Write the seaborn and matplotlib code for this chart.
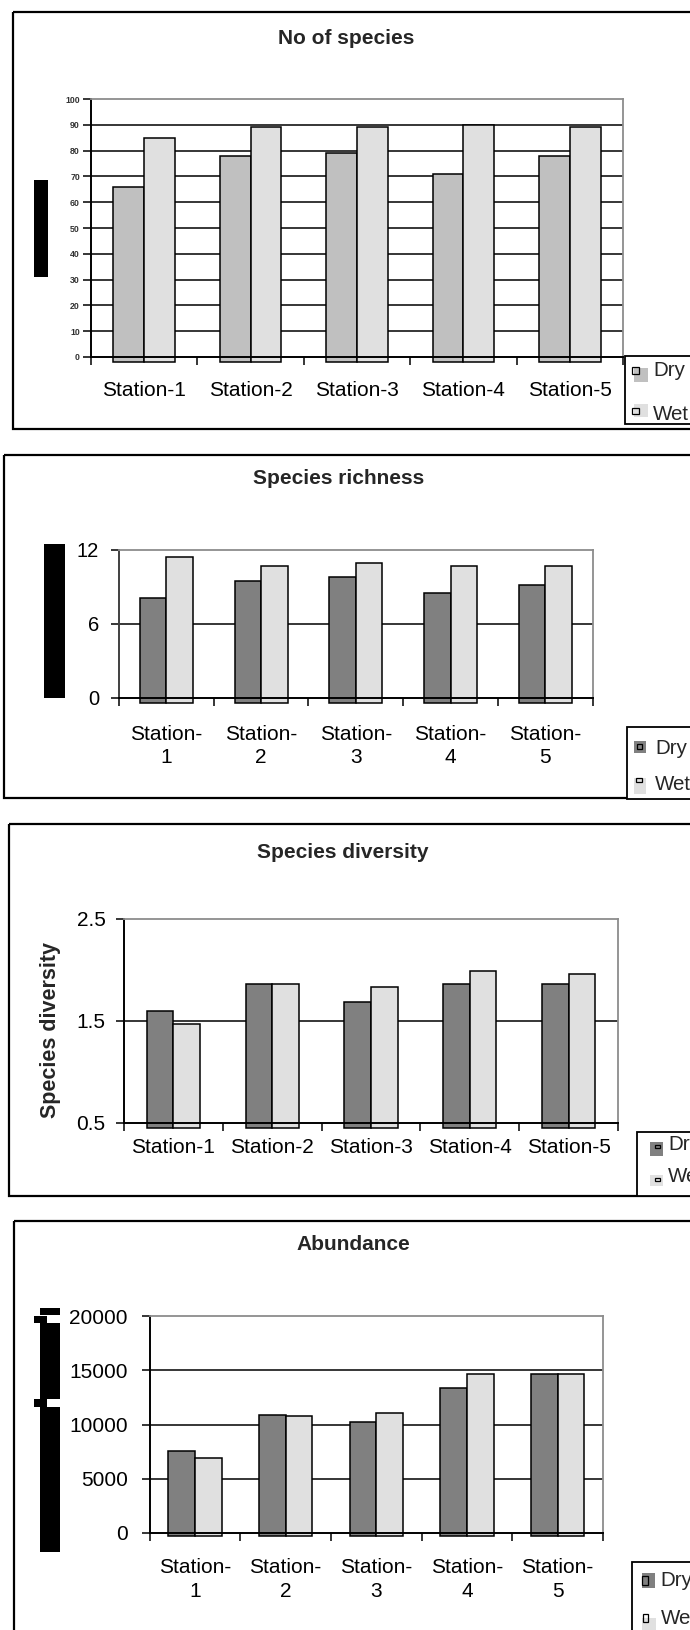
import numpy as np
import pandas as pd
import matplotlib
matplotlib.use("Agg")
import matplotlib.pyplot as plt
import seaborn as sns
from matplotlib.patches import Rectangle
from matplotlib.ticker import FixedLocator

# ---------------- data ----------------
stations = ["Station-1", "Station-2", "Station-3", "Station-4", "Station-5"]
stations_two_line = ["Station-\n1", "Station-\n2", "Station-\n3", "Station-\n4", "Station-\n5"]
seasons = ["Dry", "Wet"]

species_dry = [66, 78, 79, 71, 78]
species_wet = [85, 89, 89, 90, 89]
species_ticks = [0, 10, 20, 30, 40, 50, 60, 70, 80, 90, 100]
species_ticklabels = ["0", "10", "20", "30", "40", "50", "60", "70", "80", "90", "100"]

richness_dry = [8.1, 9.5, 9.8, 8.5, 9.1]
richness_wet = [11.4, 10.7, 10.9, 10.7, 10.7]
richness_ticks = [0, 6, 12]
richness_ticklabels = ["0", "6", "12"]

diversity_dry = [1.60, 1.86, 1.68, 1.86, 1.86]
diversity_wet = [1.47, 1.86, 1.83, 1.99, 1.96]
diversity_ticks = [0.5, 1.5, 2.5]
diversity_ticklabels = ["0.5", "1.5", "2.5"]

abundance_dry = [7600, 10900, 10200, 13400, 14650]
abundance_wet = [6900, 10800, 11100, 14650, 14650]
abundance_ticks = [0, 5000, 10000, 15000, 20000]
abundance_ticklabels = ["0", "5000", "10000", "15000", "20000"]

# ---------------- style ----------------
sns.set_style("white")
plt.rcParams["font.family"] = ["Liberation Sans", "DejaVu Sans"]

W, H = 690, 1630
fig = plt.figure(figsize=(W / 100, H / 100), dpi=100)
bg = fig.add_axes([0, 0, 1, 1], zorder=0)
bg.set_xlim(0, W)
bg.set_ylim(H, 0)
bg.axis("off")


def rect(x0, y0, x1, y1, **kw):
    bg.add_patch(Rectangle((x0, y0), x1 - x0, y1 - y0, **kw))


def px_axes(x0, y0, x1, y1):
    return fig.add_axes([x0 / W, 1 - y1 / H, (x1 - x0) / W, (y1 - y0) / H], zorder=1)


def draw_panel(box, title, title_xy, area, dry, wet, colors, ticks, ticklabels,
               xlabels, width, xpad, ypad, ytick_fs, depth_px,
               ytick_weight="normal", ytick_color="black", left_color="black"):
    # outer frame
    rect(*box, fill=False, edgecolor="black", lw=1.6)
    bg.text(title_xy[0], title_xy[1], title, ha="center", va="center",
            fontsize=15, fontweight="bold")

    x0, y0, x1, y1 = area
    ax = px_axes(*area)
    df = pd.DataFrame({
        "station": stations * 2,
        "season": ["Dry"] * len(stations) + ["Wet"] * len(stations),
        "value": list(dry) + list(wet),
    })
    sns.barplot(data=df, x="station", y="value", hue="season", order=stations,
                hue_order=seasons, palette=colors, width=width, saturation=1,
                edgecolor="black", linewidth=1.1, errorbar=None, gap=0,
                legend=False, ax=ax)
    ymin, ymax = ticks[0], ticks[-1]
    ax.set_ylim(ymin, ymax)
    ax.set_xlim(-0.5, len(stations) - 0.5)
    # Excel-like base: bars sit on the axis floor, slightly below the axis line
    depth = depth_px * (ymax - ymin) / (y1 - y0)
    for p in ax.patches:
        top = p.get_y() + p.get_height()
        p.set_y(ymin - depth)
        p.set_height(top - ymin + depth)
        p.set_clip_on(False)

    ax.set_xlabel("")
    ax.set_ylabel("")
    ax.set_yticks(ticks)
    ax.set_yticklabels(ticklabels)
    ax.set_xticks(range(len(stations)))
    ax.set_xticklabels(xlabels)

    ax.yaxis.grid(True, color="black", lw=1.1)
    ax.xaxis.grid(False)
    gl = ax.get_ygridlines()
    gl[0].set_visible(False)
    gl[-1].set_visible(False)
    ax.set_axisbelow(True)

    for side in ["top", "right"]:
        ax.spines[side].set_visible(True)
        ax.spines[side].set_color("#8c8c8c")
        ax.spines[side].set_linewidth(1.3)
    ax.spines["left"].set_color(left_color)
    ax.spines["left"].set_linewidth(1.4)
    ax.spines["bottom"].set_color("black")
    ax.spines["bottom"].set_linewidth(1.4)

    ax.tick_params(axis="y", which="major", left=True, direction="out", length=5.8,
                   width=1.1, color="black", pad=ypad, labelsize=ytick_fs,
                   labelcolor=ytick_color)
    for lab in ax.get_yticklabels():
        lab.set_fontweight(ytick_weight)
    ax.tick_params(axis="x", which="major", bottom=True, length=0, pad=xpad,
                   labelsize=15, labelcolor="black")
    ax.xaxis.set_minor_locator(FixedLocator(np.arange(-0.5, len(stations), 1.0)))
    ax.tick_params(axis="x", which="minor", bottom=True, direction="out",
                   length=5.8, width=1.1, color="black")
    plt.setp(ax.get_xticklabels(), va="center", linespacing=1.3)
    return ax


def draw_legend(x0, y0, y1, entries):
    rect(x0, y0, W + 20, y1, facecolor="white", edgecolor="black", lw=1.3)
    for label, color, sq, ol, txt in entries:
        rect(*sq, facecolor=color, edgecolor="none")
        rect(*ol, fill=False, edgecolor="black", lw=0.9)
        bg.text(txt[0], txt[1], label, ha="left", va="center", fontsize=14.8)


dry_light, dry_dark, wet_col = "#c0c0c0", "#808080", "#e0e0e0"

# ---------------- panel 1 ----------------
draw_panel(box=(13, 12, W + 20, 429), title="No of species", title_xy=(346, 39),
           area=(91, 99, 623, 357), dry=species_dry, wet=species_wet,
           colors=[dry_light, wet_col], ticks=species_ticks,
           ticklabels=species_ticklabels, xlabels=stations, width=0.58,
           xpad=23.8, ypad=2.2, ytick_fs=6.3, depth_px=5,
           ytick_weight="bold", ytick_color="#333333")
draw_legend(625, 356, 424, [
    ("Dry", dry_light, (634.3, 368, 647.7, 381.7), (632.3, 367.3, 639, 374), (653.3, 370)),
    ("Wet", wet_col, (634.3, 404, 647.7, 417), (632.3, 408, 639, 414), (653.3, 414)),
])
rect(34, 180, 48, 277, facecolor="black", edgecolor="none")

# ---------------- panel 2 ----------------
draw_panel(box=(4, 455, W + 20, 798), title="Species richness", title_xy=(339, 479),
           area=(119, 549.7, 592.7, 697.7), dry=richness_dry, wet=richness_wet,
           colors=[dry_dark, wet_col], ticks=richness_ticks,
           ticklabels=richness_ticklabels, xlabels=stations_two_line, width=0.56,
           xpad=34.7, ypad=8.6, ytick_fs=14.5, depth_px=5.5, left_color="#404040")
draw_legend(627, 727, 799, [
    ("Dry", dry_dark, (634, 741, 645.5, 752.7), (637, 744, 642, 749), (655, 748)),
    ("Wet", wet_col, (634, 778, 646, 794), (635.7, 777.7, 641.7, 782.3), (655, 785)),
])
rect(44, 544, 65, 698, facecolor="black", edgecolor="none")

# ---------------- panel 3 ----------------
draw_panel(box=(8.5, 824, W + 20, 1196), title="Species diversity", title_xy=(343, 852),
           area=(124, 918.7, 618, 1122.7), dry=diversity_dry, wet=diversity_wet,
           colors=[dry_dark, wet_col], ticks=diversity_ticks,
           ticklabels=diversity_ticklabels, xlabels=stations, width=0.54,
           xpad=18.2, ypad=7.5, ytick_fs=15, depth_px=5.5)
bg.text(50.6, 1030, "Species diversity", rotation=90, ha="center", va="center",
        fontsize=15.5, fontweight="bold")
draw_legend(637, 1132, 1196, [
    ("Dry", dry_dark, (650, 1141.7, 663.3, 1155.7), (655, 1145, 660, 1148), (668.3, 1144)),
    ("Wet", wet_col, (650, 1175, 663.3, 1185.7), (655, 1177.5, 660, 1180.5), (668.3, 1177)),
])

# ---------------- panel 4 ----------------
draw_panel(box=(14, 1221, W + 20, H + 20), title="Abundance", title_xy=(353, 1245),
           area=(149.6, 1316, 603, 1533), dry=abundance_dry, wet=abundance_wet,
           colors=[dry_dark, wet_col], ticks=abundance_ticks,
           ticklabels=abundance_ticklabels, xlabels=stations_two_line, width=0.59,
           xpad=33.5, ypad=10, ytick_fs=15, depth_px=3)
draw_legend(632, 1562, H + 20, [
    ("Dry", dry_dark, (641.7, 1573.3, 655, 1588.3), (642, 1576, 648, 1585), (660.7, 1580)),
    ("Wet", wet_col, (642, 1618, 656, 1632), (643, 1614, 648, 1621.7), (660.7, 1618)),
])
for r in [(39.5, 1308, 59.5, 1315), (34, 1316, 47.3, 1323), (39.5, 1323, 60, 1399),
          (34, 1399, 47.3, 1407), (39.5, 1407, 60, 1552)]:
    rect(*r, facecolor="black", edgecolor="none")

fig.savefig("out.png", dpi=100)
